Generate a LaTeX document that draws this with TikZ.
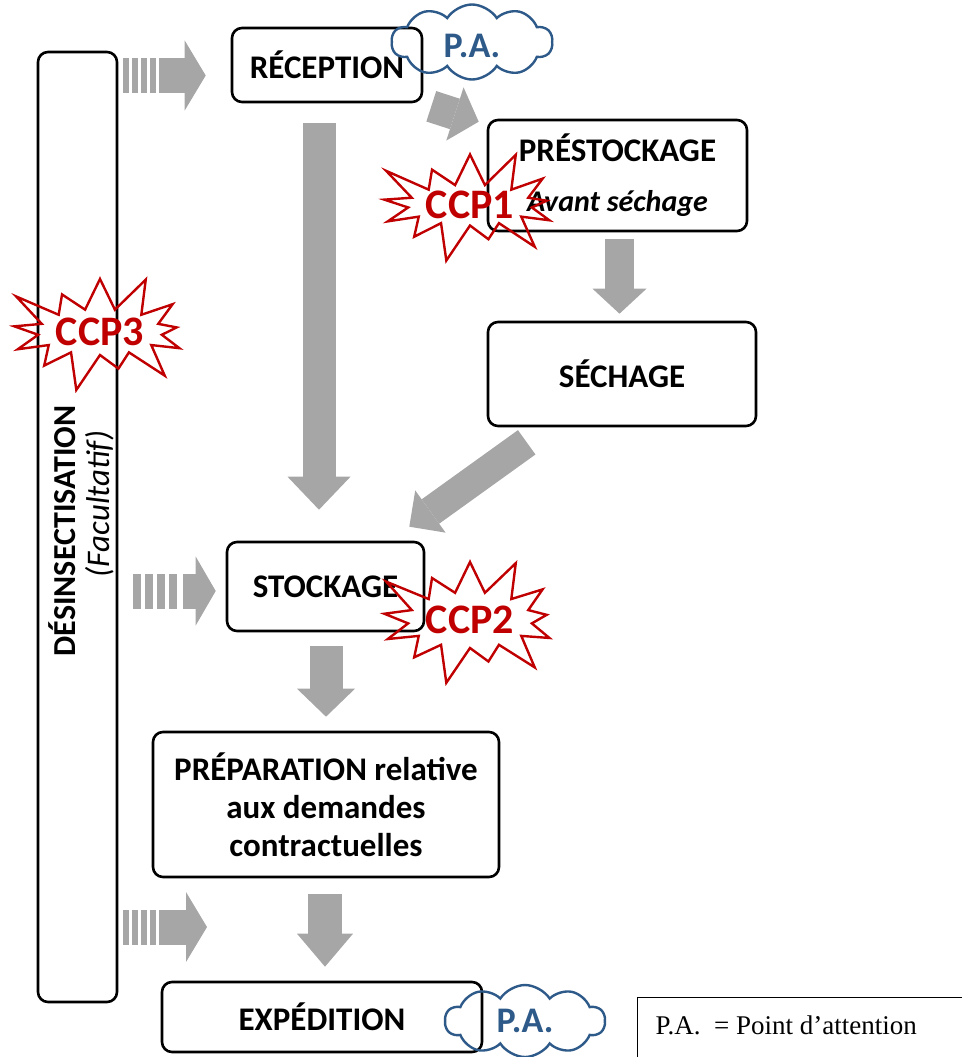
\documentclass[tikz,border=0pt]{standalone}
\usepackage{fontspec}
\setmainfont{Carlito}
\newfontfamily\legendfont{Liberation Serif}
\usetikzlibrary{arrows.meta,positioning,calc,shapes.symbols}
\definecolor{clArrow}{HTML}{A6A6A6}
\definecolor{clCCP}{HTML}{C00000}
\definecolor{clPA}{HTML}{2E5A8A}
\tikzset{
  stepbox/.style={rectangle, rounded corners=10pt, draw, line width=2.6pt, align=center,
                  inner sep=0pt, font=\fontsize{33}{38}\selectfont\bfseries},
  pacloud/.style={cloud, cloud puffs=10, cloud puff arc=115, cloud ignores aspect, draw=clPA,
                  line width=2.4pt, text=clPA, inner sep=0pt, font=\fontsize{36}{40}\selectfont\bfseries},
  ccpstar/.style={starburst, starburst points=13, starburst point height=42pt, draw=clCCP,
                  line width=2.4pt, text=clCCP, inner sep=0pt, font=\fontsize{42}{48}\selectfont\bfseries},
  flowarrow/.style={draw=clArrow, line width=33pt, -{Triangle[length=33pt, width=63pt, line width=0pt]}},
  stripearrow/.style={draw=clArrow, line width=35pt, -{Triangle[length=21pt, width=70pt, line width=0pt]}},
  stripe/.style={fill=clArrow},
}
\begin{document}
\begin{tikzpicture}[x=1pt, y=-1pt]
  \useasboundingbox (0,0) rectangle (961,1057);

  % side bar
  \node[stepbox, minimum width=79pt, minimum height=950pt] (desinsect) at (77.5,527) {};
  \node[rotate=90, font=\fontsize{32}{36}\selectfont\bfseries] (desinsectlabel) at (62,531) {DÉSINSECTISATION};
  \node[rotate=90, font=\fontsize{33}{38}\selectfont\itshape] (facultatif) at (100,504) {(Facultatif)};

  % steps
  \node[stepbox, minimum width=190pt, minimum height=74pt] (reception) at (327,65) {RÉCEPTION};
  \node[stepbox, minimum width=259pt, minimum height=111pt] (prestockage) at (617.5,175.5)
    {PRÉSTOCKAGE\\[12pt]{\fontsize{30}{36}\selectfont\itshape Avant séchage}};
  \node[stepbox, minimum width=268pt, minimum height=104pt] (sechage) at (622,374) {SÉCHAGE};
  \node[stepbox, minimum width=197pt, minimum height=89pt] (stockage) at (325.5,586.5) {STOCKAGE};
  \node[stepbox, minimum width=346pt, minimum height=145pt] (preparation) at (326,804.5)
    {PRÉPARATION relative\\aux demandes\\contractuelles};
  \node[stepbox, minimum width=320pt, minimum height=70pt] (expedition) at (322,1017) {EXPÉDITION};

  % flow arrows
  \draw[flowarrow, shorten <=20pt, shorten >=31pt] ([xshift=-8pt]reception.south) -- ([xshift=-6.5pt]stockage.north);
  \draw[flowarrow, line width=32pt, -{Triangle[length=25pt, width=56pt, line width=0pt]}]
    ([shift={(8,3)}]reception.south east) -- ([shift={(-8,3)}]prestockage.north west);
  \draw[flowarrow, line width=29pt, -{Triangle[length=25pt, width=54pt, line width=0pt]}, shorten <=7pt, shorten >=7pt]
    ([xshift=2pt]prestockage.south) -- ([xshift=-2.5pt]sechage.north);
  \draw[flowarrow, line width=30pt, -{Triangle[length=26pt, width=52pt, line width=0pt]}]
    ([shift={(40,15)}]sechage.south west) -- ([shift={(-16,-14)}]stockage.north east);
  \draw[flowarrow, -{Triangle[length=28pt, width=58pt, line width=0pt]}, shorten <=14pt, shorten >=14pt]
    ([xshift=0.5pt]stockage.south) -- (preparation.north);
  \draw[flowarrow, line width=34pt, -{Triangle[length=33pt, width=56pt, line width=0pt]}, shorten <=16pt, shorten >=14pt]
    ([xshift=-1pt]preparation.south) -- ([xshift=3pt]expedition.north);

  % striped arrows from the side bar
  \coordinate (strip1) at (159,75.5);
  \coordinate (strip2) at (183,591);
  \coordinate (strip3) at (159,927);
  \coordinate (strip3end) at (207,927);
  \foreach \i in {0,...,3} {
    \fill[stripe] ({123+9*\i},58) rectangle ++(6,35);
    \fill[stripe] ({133+12*\i},573.5) rectangle ++(8,35);
    \fill[stripe] ({123+9*\i},909.5) rectangle ++(6,35);
  }
  \draw[stripearrow, shorten >=25pt] (strip1) -- (strip1 -| reception.west);
  \draw[stripearrow, line width=35pt, -{Triangle[length=20pt, width=69pt, line width=0pt]}, shorten >=10pt]
    (strip2) -- (strip2 -| stockage.west);
  \draw[stripearrow] (strip3) -- (strip3end);

  % points d'attention
  \node[pacloud, minimum width=161pt, minimum height=75pt] (pa1) at (472,42) {\raisebox{-16pt}[0pt][0pt]{P.A.}};
  \node[pacloud, minimum width=160pt, minimum height=72pt] (pa2) at (525,1021) {P.A.};

  % CCP
  \node[ccpstar, minimum width=172pt, minimum height=125pt] (ccp1) at (470,205) {CCP1};
  \node[ccpstar, minimum width=170pt, minimum height=140pt] (ccp2) at (470,620) {CCP2};
  \node[ccpstar, minimum width=173pt, minimum height=130pt] (ccp3) at (100,332) {CCP3};

  % legend
  \node[draw, line width=1.2pt, anchor=north west, minimum width=340pt, minimum height=80pt] (legend) at (637,997) {};
  \node[anchor=west, font=\legendfont\fontsize{27}{32}\selectfont] (legendtext) at (652,1025) {P.A.\ \ = Point d’attention};
\end{tikzpicture}
\end{document}
